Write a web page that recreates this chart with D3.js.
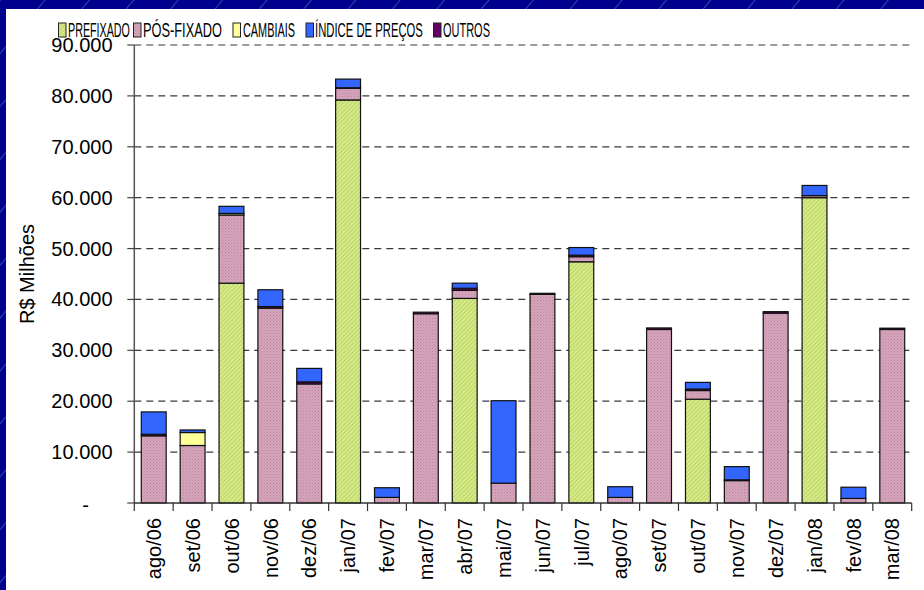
<!DOCTYPE html>
<html><head><meta charset="utf-8">
<script src="https://cdn.jsdelivr.net/npm/d3@7"></script>
<style>html,body{margin:0;padding:0;background:#00008b;}svg{display:block;} text{font-family: Arial, 'Liberation Sans', sans-serif;}</style>
</head><body>
<script>
const categories = ["ago/06","set/06","out/06","nov/06","dez/06","jan/07","fev/07","mar/07","abr/07","mai/07","jun/07","jul/07","ago/07","set/07","out/07","nov/07","dez/07","jan/08","fev/08","mar/08"];
const prefixado = [0,0,43200,0,0,79200,0,0,40200,0,0,47400,0,0,20400,0,0,60000,0,0];
const posFixado = [13200,11300,13400,38300,23400,2300,1100,37200,1600,3900,41000,1000,1100,34100,1700,4400,37300,400,900,34100];
const cambiais  = [0,2550,300,0,0,0,0,0,0,0,0,0,0,0,0,0,0,0,0,0];
const outros    = [300,0,0,300,400,100,0,300,400,0,200,300,0,300,300,150,300,0,0,250];
const indice    = [4400,500,1400,3300,2650,1700,1900,0,1000,16200,0,1500,2100,0,1300,2600,0,2000,2200,0];
const yTicks = [0,10000,20000,30000,40000,50000,60000,70000,80000,90000];
const legendNames = ["PREFIXADO","PÓS-FIXADO","CAMBIAIS","ÍNDICE DE PREÇOS","OUTROS"];

(function(){
const W = 924, H = 590;
const FF = "Arial, 'Liberation Sans', sans-serif";
const svg = d3.select("body").append("svg").attr("width", W).attr("height", H)
  .attr("font-family", FF);
const defs = svg.append("defs");

const bgp = defs.append("pattern").attr("id","bgpat").attr("patternUnits","userSpaceOnUse")
  .attr("width",34).attr("height",34).attr("patternTransform","rotate(40)");
bgp.append("rect").attr("width",34).attr("height",34).attr("fill","#00008e");
bgp.append("line").attr("x1",0.5).attr("y1",0).attr("x2",0.5).attr("y2",34).attr("stroke","#3347b0").attr("stroke-width",1);

const gp = defs.append("pattern").attr("id","pGreen").attr("patternUnits","userSpaceOnUse")
  .attr("width",3).attr("height",3).attr("patternTransform","rotate(45)");
gp.append("rect").attr("width",3).attr("height",3).attr("fill","#d6ea8a");
gp.append("rect").attr("width",1).attr("height",3).attr("fill","#bcd565");
const pp = defs.append("pattern").attr("id","pPink").attr("patternUnits","userSpaceOnUse")
  .attr("width",3).attr("height",3);
pp.append("rect").attr("width",3).attr("height",3).attr("fill","#d6a4bb");
pp.append("rect").attr("x",0).attr("y",0).attr("width",1).attr("height",1).attr("fill","#b8849c");
pp.append("rect").attr("x",1.5).attr("y",1.5).attr("width",1).attr("height",1).attr("fill","#c08ea6");

const fills = {pre:"url(#pGreen)", pos:"url(#pPink)", cam:"#ffff99", out:"#660066", ind:"#3366ff"};

svg.append("rect").attr("width",W).attr("height",H).attr("fill","url(#bgpat)");
svg.append("rect").attr("x",6).attr("y",9).attr("width",W-6).attr("height",H-9).attr("fill","#ffffff");

const pLeft = 134.3, pRight = 911.7, pTop = 45, pBottom = 503;
const x = d3.scaleBand().domain(categories).range([pLeft, pRight]).paddingInner(0.36).paddingOuter(0.18);
const xb = d3.scaleBand().domain(categories).range([pLeft, pRight]).padding(0);
const y = d3.scaleLinear().domain([0, 90000]).range([pBottom, pTop]);

// grid
svg.append("g").selectAll("line").data(yTicks.filter(d => d > 0)).join("line")
  .attr("x1", pLeft).attr("x2", pRight).attr("y1", d => y(d)).attr("y2", d => y(d))
  .attr("stroke","#3a3a3a").attr("stroke-width",1.2).attr("stroke-dasharray","7,5");

// bars
const keys = ["pre","pos","cam","out","ind"];
const rows = categories.map((c,i) => ({cat:c, pre:prefixado[i], pos:posFixado[i], cam:cambiais[i], out:outros[i], ind:indice[i]}));
const series = d3.stack().keys(keys)(rows);
const gBars = svg.append("g");
series.forEach(s => {
  gBars.append("g").selectAll("rect").data(s.filter(d => d[1] - d[0] > 0)).join("rect")
    .attr("x", d => x(d.data.cat)).attr("width", x.bandwidth())
    .attr("y", d => y(d[1])).attr("height", d => y(d[0]) - y(d[1]))
    .attr("fill", fills[s.key]).attr("stroke","#111").attr("stroke-width",1.2);
});

// y axis (manual, through scale)
const fmt = d => d === 0 ? "-" : d3.format(",")(d).replace(/,/g, ".");
const ya = svg.append("g");
ya.append("line").attr("x1", pLeft).attr("x2", pLeft).attr("y1", y(90000)).attr("y2", y(0))
  .attr("stroke","#555").attr("stroke-width",1.5);
ya.selectAll("line.tk").data(yTicks).join("line").attr("class","tk")
  .attr("x1", pLeft - 7).attr("x2", pLeft).attr("y1", d => y(d)).attr("y2", d => y(d))
  .attr("stroke","#444").attr("stroke-width",1.2);
ya.selectAll("text").data(yTicks).join("text")
  .attr("x", d => d === 0 ? 89 : 112.5).attr("y", d => y(d)).attr("dy", d => d === 0 ? "0.45em" : "0.35em")
  .attr("text-anchor","end").attr("font-size", 20).attr("fill","#000").text(fmt);

// x axis
const xa = svg.append("g");
xa.append("line").attr("x1", pLeft).attr("x2", pRight).attr("y1", pBottom).attr("y2", pBottom)
  .attr("stroke","#333").attr("stroke-width",1.5);
xa.selectAll("line.tk").data(categories.concat(["__end"])).join("line").attr("class","tk")
  .attr("x1", (d,i) => i < categories.length ? xb(d) : pRight)
  .attr("x2", (d,i) => i < categories.length ? xb(d) : pRight)
  .attr("y1", pBottom).attr("y2", pBottom + 8).attr("stroke","#333").attr("stroke-width",1.2);
xa.selectAll("text").data(categories).join("text")
  .attr("transform", d => `translate(${xb(d) + xb.bandwidth()/2},${pBottom + 15}) rotate(-90)`)
  .attr("text-anchor","end").attr("dy","0.36em").attr("font-size", 20).attr("fill","#000").text(d => d);

// y title
svg.append("text").attr("transform", `translate(34,${(pTop+pBottom)/2}) rotate(-90)`)
  .attr("text-anchor","middle").attr("font-size",20).attr("fill","#000").text("R$ Milhões");

// legend (horizontally condensed as in the reference)
const legSwX = [58.5, 133.5, 233, 306, 433.5];
const legTxX = [68, 143, 243, 315, 443];
const legTxW = [62, 79, 52, 108, 47];
const legFill = [fills.pre, fills.pos, fills.cam, fills.ind, fills.out];
const lg = svg.append("g");
legendNames.forEach((n,i) => {
  lg.append("rect").attr("x", legSwX[i]).attr("y", 23).attr("width", 7.5).attr("height", 14)
    .attr("fill", legFill[i]).attr("stroke","#222").attr("stroke-width",1);
  const t = lg.append("text").attr("font-size", 19.5).attr("fill","#000").text(n);
  const natural = t.node().getComputedTextLength();
  const sx = legTxW[i] / natural;
  t.attr("transform", `translate(${legTxX[i]},37) scale(${sx},1)`);
});
})();
</script>
</body></html>
